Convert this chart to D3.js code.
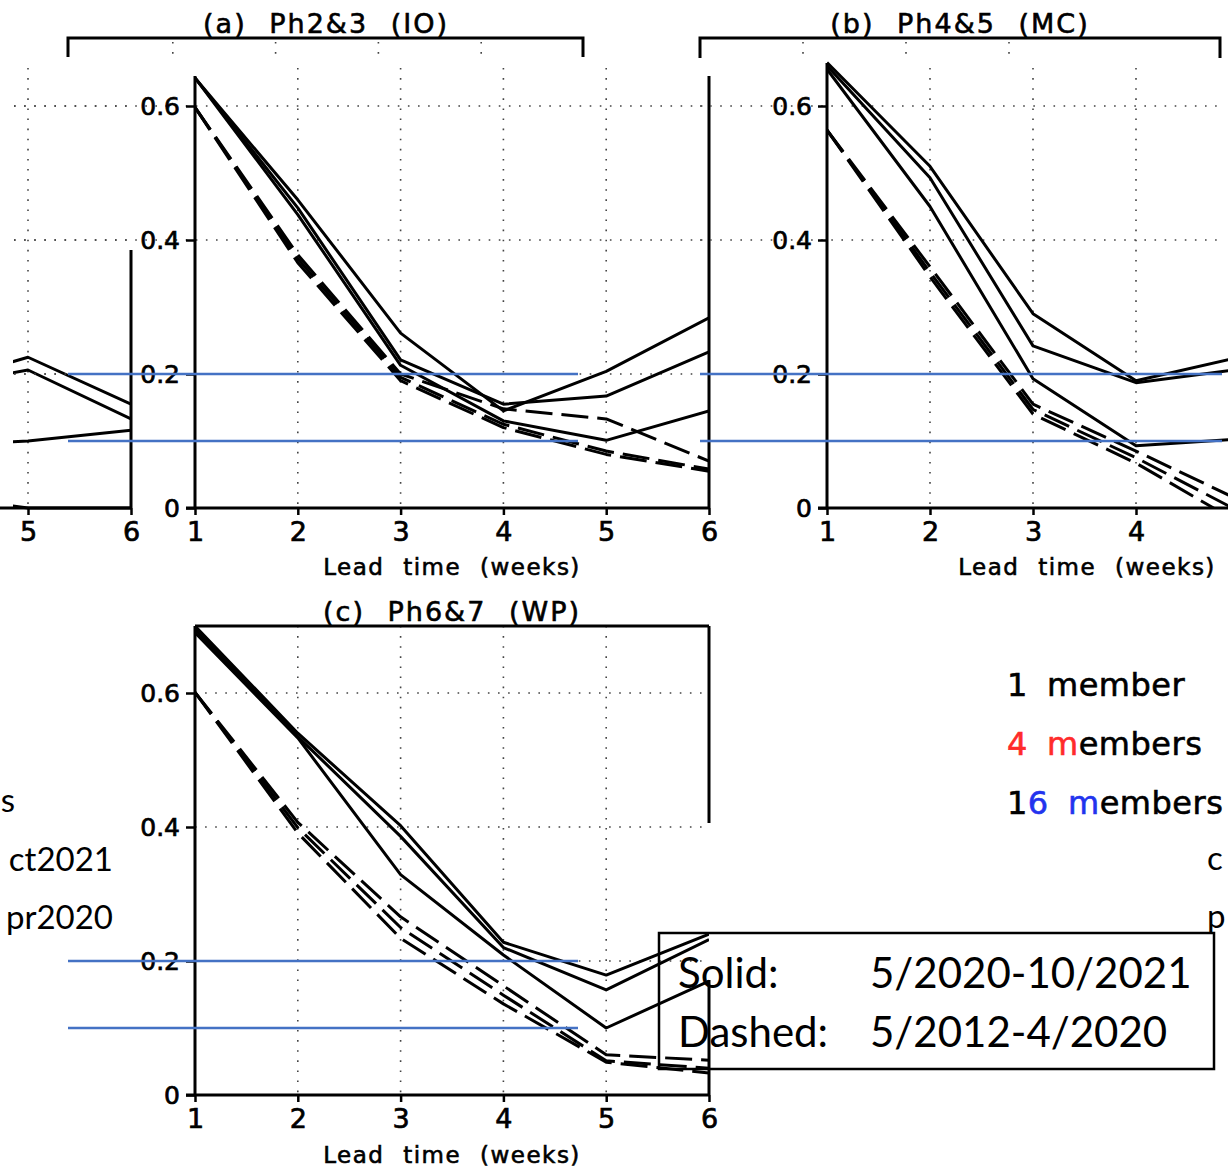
<!DOCTYPE html>
<html>
<head>
<meta charset="utf-8">
<script src="https://cdn.jsdelivr.net/npm/d3@7/dist/d3.min.js"></script>
<style>
  body { margin: 0; background: #fff; }
  svg { display: block; }
</style>
</head>
<body>
<svg id="chart" width="1228" height="1171"></svg>
<script>
// ---- data (anomaly correlation vs lead time) ----
const weeks = [1, 2, 3, 4, 5, 6];
const prevWeeks = [4, 5, 6];
const yTicks = [0, 0.2, 0.4, 0.6];
const yTickLabels = ["0", "0.2", "0.4", "0.6"];
const refLevels = [0.2, 0.1];

// tail of the panel cut off on the left
const prevSolid = [
    [0.180, 0.225, 0.155],
    [0.178, 0.206, 0.133],
    [0.092, 0.100, 0.116],
    [0.020, 0.000, 0.000]
];

// (a) Ph2&3 (IO)
const aSolid = [
    [0.642, 0.460, 0.261, 0.145, 0.204, 0.284],
    [0.642, 0.448, 0.221, 0.155, 0.167, 0.233],
    [0.642, 0.438, 0.213, 0.130, 0.101, 0.145]
];
const aDashed = [
    [0.598, 0.378, 0.200, 0.148, 0.133, 0.070],
    [0.598, 0.372, 0.195, 0.125, 0.085, 0.058],
    [0.598, 0.366, 0.190, 0.120, 0.080, 0.055]
];

// (b) Ph4&5 (MC)
const bSolid = [
    [0.665, 0.510, 0.290, 0.190, 0.225],
    [0.660, 0.493, 0.242, 0.187, 0.207],
    [0.655, 0.450, 0.193, 0.093, 0.103]
];
const bDashed = [
    [0.564, 0.360, 0.155, 0.085, 0.012],
    [0.564, 0.352, 0.147, 0.075, -0.005],
    [0.564, 0.345, 0.140, 0.067, -0.022]
];

// (c) Ph6&7 (WP)
const cSolid = [
    [0.700, 0.540, 0.402, 0.228, 0.179, 0.240],
    [0.695, 0.535, 0.386, 0.220, 0.157, 0.232],
    [0.690, 0.533, 0.329, 0.209, 0.100, 0.170]
];
const cDashed = [
    [0.601, 0.407, 0.266, 0.163, 0.060, 0.052],
    [0.601, 0.399, 0.250, 0.149, 0.051, 0.040],
    [0.601, 0.391, 0.234, 0.136, 0.049, 0.033]
];

const titles = ["(a) Ph2&3 (IO)", "(b) Ph4&5 (MC)", "(c) Ph6&7 (WP)"];
const xLabel = "Lead time (weeks)";
const members = [
    { num: "1", word: "member", numColor: "#000", mColor: "#000" },
    { num: "4", word: "members", numColor: "#ff2b2b", mColor: "#ff2b2b" },
    { num: "16", word: "members", numColor: "#2233ee", mColor: "#2233ee" }
];
const periods = [
    { label: "Solid:", range: "5/2020-10/2021" },
    { label: "Dashed:", range: "5/2012-4/2020" }
];
// visible pieces of neighbouring legends that the crop cut through
const leftPieces = ["s", "ct2021", "pr2020"];
const rightPieces = ["c", "p"];

// ---- styles ----
const BLUE = "#4472c4";
const GRID = { stroke: "#444", width: 1.6, dash: "1.6,8.5" };
const TICK_FONT = "'DejaVu Sans', sans-serif";
const LEGEND_FONT = "Lato, 'Open Sans', sans-serif";

const svg = d3.select("#chart");
svg.append("rect").attr("width", 1228).attr("height", 1171).attr("fill", "#fff");

const defs = svg.append("defs");
function addClip(id, x, y, w, h){
    defs.append("clipPath").attr("id", id)
        .append("rect").attr("x", x).attr("y", y).attr("width", w).attr("height", h);
    return `url(#${id})`;
}

// grads-like heavier strokes on text
function heavy(sel, w){
    return sel.attr("stroke", "currentColor").attr("stroke-width", w);
}

function scalesFor(p){
    const x = d3.scaleLinear().domain([1, 6]).range([p.left, p.left + 5 * p.step]);
    const y = d3.scaleLinear().domain([0, 0.6]).range([p.bottom, p.bottom - 402]);
    return { x, y };
}

function drawGrid(g, x, y, p){
    const grid = g.append("g").attr("class", "grid")
        .attr("stroke", GRID.stroke)
        .attr("stroke-width", GRID.width)
        .attr("stroke-dasharray", GRID.dash);

    grid.selectAll("line.v").data(p.gridWeeks).enter()
        .append("line").attr("class", "v")
            .attr("x1", d => x(d)).attr("x2", d => x(d))
            .attr("y1", p.gridTop).attr("y2", p.bottom);

    grid.selectAll("line.h").data(yTicks.filter(d => d > 0)).enter()
        .append("line").attr("class", "h")
            .attr("x1", p.hGrid[0]).attr("x2", p.hGrid[1])
            .attr("y1", d => y(d)).attr("y2", d => y(d));

    // stray bits of grid above the white band
    if(p.stubShift){
        grid.selectAll("line.stub").data(p.gridWeeks).enter()
            .append("line").attr("class", "stub")
                .attr("x1", d => x(d) + p.stubShift).attr("x2", d => x(d) + p.stubShift)
                .attr("y1", 42).attr("y2", 58);
    }
}

function drawSeries(g, x, y, series, xs, dashed, clip){
    const line = d3.line()
        .x((d, i) => x(xs[i]))
        .y(d => y(d));
    g.append("g").attr("clip-path", clip)
        .selectAll("path").data(series).enter()
        .append("path")
            .attr("d", line)
            .attr("fill", "none")
            .attr("stroke", "#000")
            .attr("stroke-width", 3)
            .attr("stroke-linejoin", "round")
            .attr("stroke-dasharray", dashed ? "27,9" : null);
}

function styleAxis(ax, size){
    ax.select(".domain").remove();
    ax.selectAll(".tick line").attr("stroke", "#000").attr("stroke-width", 2.5);
    ax.selectAll(".tick text")
        .attr("fill", "#000")
        .attr("stroke", "#000")
        .attr("stroke-width", 0.7)
        .style("font-family", TICK_FONT)
        .style("font-size", size + "px");
}

function drawAxes(g, x, y, p){
    const xAxis = g.append("g")
        .attr("transform", `translate(0,${p.bottom})`)
        .call(d3.axisBottom(x).tickValues(p.xTicks).tickFormat(d3.format("d"))
            .tickSize(7).tickPadding(7));
    styleAxis(xAxis, 27);

    if(p.yLabels){
        const yAxis = g.append("g")
            .attr("transform", `translate(${p.left},0)`)
            .call(d3.axisLeft(y).tickValues(yTicks).tickFormat((d, i) => yTickLabels[i])
                .tickSize(9).tickPadding(6));
        styleAxis(yAxis, 25);
    }

    // frame pieces
    g.append("line")
        .attr("x1", p.axisX[0]).attr("x2", p.axisX[1])
        .attr("y1", p.bottom).attr("y2", p.bottom)
        .attr("stroke", "#000").attr("stroke-width", 3);
    p.frame.forEach(f => {
        g.append("line")
            .attr("x1", f[0]).attr("y1", f[1]).attr("x2", f[2]).attr("y2", f[3])
            .attr("stroke", "#000").attr("stroke-width", 3);
    });
}

function drawTitle(g, text, cx, cy){
    g.append("text")
        .attr("x", cx).attr("y", cy)
        .attr("text-anchor", "middle")
        .attr("stroke", "#000").attr("stroke-width", 0.6)
        .style("font-family", TICK_FONT)
        .style("font-size", "27px")
        .style("letter-spacing", "2px")
        .style("word-spacing", "12px")
        .text(text);
}

function drawXLabel(g, cx, cy){
    g.append("text")
        .attr("x", cx).attr("y", cy)
        .attr("text-anchor", "middle")
        .attr("stroke", "#000").attr("stroke-width", 0.6)
        .style("font-family", TICK_FONT)
        .style("font-size", "23px")
        .style("letter-spacing", "1.5px")
        .style("word-spacing", "10px")
        .text(xLabel);
}

function drawBracket(g, x0, x1, top, drop){
    g.append("path")
        .attr("d", `M${x0},${drop}V${top}H${x1}V${drop}`)
        .attr("fill", "none")
        .attr("stroke", "#000")
        .attr("stroke-width", 3);
}

function drawRefLines(g, y, x0, x1){
    g.selectAll(null).data(refLevels).enter()
        .append("line")
            .attr("x1", x0).attr("x2", x1)
            .attr("y1", d => y(d)).attr("y2", d => y(d))
            .attr("stroke", BLUE)
            .attr("stroke-width", 2.5);
}

// ---- panel geometry ----
const panelPrev = { left: 28 - 4 * 103, step: 103, bottom: 508, gridWeeks: [5], gridTop: 68,
    hGrid: [14, 131], xTicks: [5, 6], yLabels: false, axisX: [0, 131], frame: [[131, 250, 131, 508]] };
const panelA = { left: 195, step: 102.8, bottom: 508, gridWeeks: [2, 3, 4, 5], gridTop: 68, stubShift: -125,
    hGrid: [14, 709], xTicks: weeks, yLabels: true, axisX: [186, 709],
    frame: [[195, 76, 195, 508], [709, 76, 709, 508]] };
const panelB = { left: 827, step: 103, bottom: 508, gridWeeks: [2, 3, 4], gridTop: 68, stubShift: -127,
    hGrid: [700, 1222], xTicks: [1, 2, 3, 4], yLabels: true, axisX: [818, 1228],
    frame: [[827, 63, 827, 508]] };
const panelC = { left: 195, step: 102.8, bottom: 1095, gridWeeks: [2, 3, 4, 5], gridTop: 626,
    hGrid: [195, 709], xTicks: weeks, yLabels: true, axisX: [186, 709],
    frame: [[195, 626, 195, 1095], [195, 626, 709, 626], [709, 626, 709, 823], [709, 980, 709, 1095]] };

// ---- left cut-off panel ----
{
    const g = svg.append("g");
    const { x, y } = scalesFor(panelPrev);
    drawGrid(g, x, y, panelPrev);
    drawSeries(g, x, y, prevSolid, prevWeeks, false, addClip("clip-prev", 13, 300, 118, 210));
    drawAxes(g, x, y, panelPrev);
}

// ---- panel (a) ----
{
    const g = svg.append("g");
    const { x, y } = scalesFor(panelA);
    drawGrid(g, x, y, panelA);
    const clip = addClip("clip-a", 195, 60, 514, 450);
    drawSeries(g, x, y, aDashed, weeks, true, clip);
    drawSeries(g, x, y, aSolid, weeks, false, clip);
    drawAxes(g, x, y, panelA);
    drawRefLines(g, y, 68, 578);
    drawBracket(g, 68, 583, 38, 57);
    drawTitle(g, titles[0], 326, 33);
    drawXLabel(g, 452, 575);
}

// ---- panel (b) ----
{
    const g = svg.append("g");
    const { x, y } = scalesFor(panelB);
    drawGrid(g, x, y, panelB);
    const clip = addClip("clip-b", 827, 55, 401, 454);
    drawSeries(g, x, y, bDashed, weeks, true, clip);
    drawSeries(g, x, y, bSolid, weeks, false, clip);
    drawAxes(g, x, y, panelB);
    drawRefLines(g, y, 700, 1222);
    drawBracket(g, 700, 1220, 38, 58);
    drawTitle(g, titles[1], 960, 33);
    drawXLabel(g, 1087, 575);
}

// ---- panel (c) ----
{
    const g = svg.append("g");
    const { x, y } = scalesFor(panelC);
    drawGrid(g, x, y, panelC);
    const clip = addClip("clip-c", 195, 620, 514, 477);
    drawSeries(g, x, y, cDashed, weeks, true, clip);
    drawSeries(g, x, y, cSolid, weeks, false, clip);
    drawAxes(g, x, y, panelC);
    drawRefLines(g, y, 68, 578);
    drawTitle(g, titles[2], 452, 621);
    drawXLabel(g, 452, 1163);
}

// ---- member legend ----
{
    const lg = svg.append("g")
        .style("font-family", TICK_FONT)
        .style("font-size", "32px")
        .style("letter-spacing", "0.5px");
    members.forEach((m, i) => {
        const yy = 696 + i * 59;
        const t = lg.append("text").attr("x", 1007).attr("y", yy);
        if(m.num.length > 1){
            heavy(t.append("tspan").style("color", "#000").attr("fill", "#000").text(m.num[0]), 0.6);
            heavy(t.append("tspan").style("color", m.numColor).attr("fill", m.numColor).text(m.num.slice(1)), 0.6);
        }else{
            heavy(t.append("tspan").style("color", m.numColor).attr("fill", m.numColor).text(m.num), 0.6);
        }
        const w = lg.append("text").attr("x", m.num.length > 1 ? 1068 : 1047).attr("y", yy);
        heavy(w.append("tspan").style("color", m.mColor).attr("fill", m.mColor).text(m.word[0]), 0.6);
        heavy(w.append("tspan").style("color", "#000").attr("fill", "#000").text(m.word.slice(1)), 0.6);
    });
}

// ---- text fragments from the neighbouring legends ----
{
    const fg = svg.append("g")
        .style("font-family", LEGEND_FONT)
        .style("font-size", "33px")
        .attr("fill", "#000");
    fg.selectAll("text.left").data(leftPieces).enter()
        .append("text").attr("class", "left")
            .attr("x", (d, i) => i === 0 ? 15 : 113)
            .attr("y", (d, i) => i === 0 ? 812 : 871 + (i - 1) * 58)
            .attr("text-anchor", "end")
            .text(d => d);
    fg.selectAll("text.right").data(rightPieces).enter()
        .append("text").attr("class", "right")
            .attr("x", 1207)
            .attr("y", (d, i) => 870 + i * 58)
            .text(d => d);
}

// ---- period legend box ----
{
    const pg = svg.append("g");
    pg.append("rect")
        .attr("x", 659).attr("y", 933)
        .attr("width", 555).attr("height", 136)
        .attr("fill", "none")
        .attr("stroke", "#000")
        .attr("stroke-width", 2.5);
    periods.forEach((p, i) => {
        const yy = 988 + i * 59;
        pg.append("text").attr("x", 678).attr("y", yy)
            .style("font-family", LEGEND_FONT).style("font-size", "42px")
            .text(p.label);
        pg.append("text").attr("x", 870).attr("y", yy)
            .style("font-family", LEGEND_FONT).style("font-size", "42px")
            .text(p.range);
    });
}
</script>
</body>
</html>
